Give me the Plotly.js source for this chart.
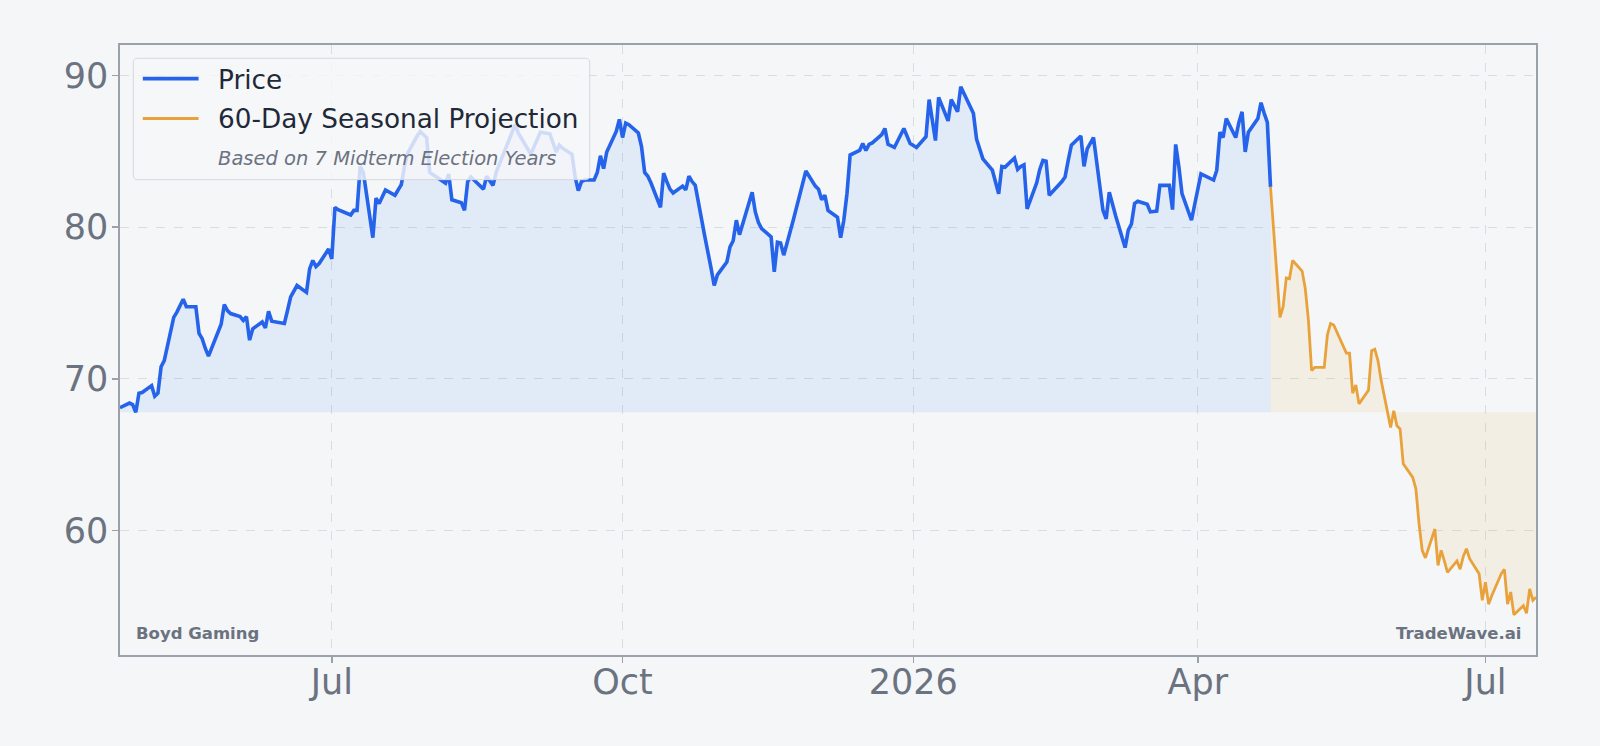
<!DOCTYPE html>
<html>
<head>
<meta charset="utf-8">
<script src="https://cdn.plot.ly/plotly-3.0.1.min.js"></script>
<style>
  html, body { margin: 0; padding: 0; background: #f4f6f8; }
  #chart { width: 1600px; height: 746px; }
</style>
</head>
<body>
<div id="chart"></div>
<script>
// ---------------- DATA ----------------
const companyName = 'Boyd Gaming';
const brandName = 'TradeWave.ai';
const priceLabel = 'Price';
const projectionLabel = '60-Day Seasonal Projection';
const projectionNote = 'Based on 7 Midterm Election Years';

// NYSE holidays inside the price window (no trading)
const marketHolidays = ['2025-05-26','2025-06-19','2025-07-04','2025-09-01','2025-11-27',
  '2025-12-25','2026-01-01','2026-01-19','2026-02-16','2026-04-03'];
const priceStart = '2025-04-25';

// daily closes, one row per trading week
const priceValues = [
  68.1,
  68.4, 68.3, 67.8, 69.05, 69.1,
  69.55, 68.85, 69.05, 70.8, 71.2,
  74.05, 74.4, 74.8, 75.25, 74.75,
  74.75, 73.0, 72.65, 72.0, 71.5,
  73.6, 74.9, 74.5, 74.3,
  74.1, 73.85, 74.1, 72.55, 73.3,
  73.75, 73.35, 74.45, 73.8, 73.75,
  73.65, 74.5, 75.4, 76.15,
  75.7, 77.25, 77.8, 77.4, 77.6,
  78.55, 77.9, 81.3, 81.15,
  80.8, 81.1, 81.1, 84.0, 83.6,
  79.3, 81.9, 81.55, 82.0, 82.45,
  82.1, 82.45, 82.8, 84.0, 84.85,
  86.0, 86.3, 86.1, 85.9, 83.6,
  83.15, 83.0, 82.9, 83.5, 81.8,
  81.6, 81.1, 83.0, 83.3, 83.1,
  82.5, 83.35, 83.0, 82.75, 83.6,
  85.25, 85.8, 86.35, 86.75, 86.2,
  84.8, 85.3, 85.8, 86.25,
  86.15, 85.5, 84.95, 85.4, 85.2,
  84.8, 83.3, 82.4, 83.0, 83.1,
  83.1, 83.6, 84.7, 83.85, 84.95,
  86.3, 87.1, 85.9, 86.85, 86.75,
  86.2, 85.3, 83.6, 83.35, 82.9,
  81.3, 83.55, 83.0, 82.5, 82.25,
  82.7, 82.45, 83.35, 83.0, 82.75,
  79.4, 78.2, 77.3, 76.15, 76.85,
  77.7, 78.7, 79.1, 80.45, 79.5,
  81.5, 82.3, 81.0, 80.3, 79.9,
  79.35, 77.05, 79.0, 78.95, 78.15,
  80.45, 81.3, 82.1, 83.7,
  82.7, 82.5, 81.8, 82.1, 81.1,
  80.65, 79.3, 80.45, 82.2, 84.75,
  85.05, 85.5, 85.05, 85.45, 85.55,
  86.1, 86.5, 85.45, 85.25,
  86.5, 86.0, 85.5, 85.25,
  85.95, 88.4, 86.9, 85.7, 88.55,
  87.0, 88.4, 88.0, 87.6, 89.25,
  87.5, 85.8, 85.1, 84.5,
  83.75, 83.0, 82.2, 84.0, 83.95,
  84.55, 83.8, 84.0, 84.1, 81.2,
  82.9, 83.8, 84.4, 84.35, 82.1,
  83.0, 83.3, 84.4, 85.4,
  86.0, 84.0, 85.15, 85.5, 85.9,
  81.1, 80.55, 82.3, 81.45, 80.75,
  78.65, 79.8, 80.2, 81.55, 81.7,
  81.5, 81.0, 81.0, 81.05, 82.75,
  82.75, 81.15, 85.45, 84.0, 82.2,
  80.45, 81.4, 82.6, 83.5,
  83.1, 83.75, 86.25, 85.9, 87.15,
  85.9, 86.9, 87.6, 84.95, 86.25,
  87.15, 88.2, 87.5, 86.9, 82.65
];

// projected path for the next 60 weekdays after the last close
const projectionValues = [
  74.05, 74.75, 76.65, 76.6, 77.8,
  77.1, 75.95, 73.85, 70.55, 70.75,
  70.75, 72.9, 73.65, 73.55, 73.1,
  71.7, 71.7, 69.05, 69.6, 68.35,
  69.25, 71.85, 71.95, 71.2, 69.9,
  66.8, 67.9, 66.9, 66.7, 64.4,
  63.5, 62.75, 60.45, 58.7, 58.2,
  60.1, 57.7, 58.7, 58.0, 57.25,
  58.0, 57.45, 58.3, 58.8, 58.15,
  57.15, 55.4, 56.6, 55.15, 55.7,
  57.15, 57.45, 55.15, 55.95, 54.45,
  55.05, 54.55, 56.15, 55.4, 55.6
];

const xTickVals = ['2025-07-01', '2025-10-01', '2026-01-01', '2026-04-01', '2026-07-01'];
const xTickText = ['Jul', 'Oct', '2026', 'Apr', 'Jul'];
const yTickVals = [60, 70, 80, 90];
const yRange = [51.8, 92.0];

// ---------------- DATES ----------------
function iso(d) { return d.toISOString().slice(0, 10); }
function weekdays(startIso, n, skipHolidays) {
  const out = [];
  const d = new Date(startIso + 'T00:00:00Z');
  while (out.length < n) {
    const wd = d.getUTCDay();
    const s = iso(d);
    if (wd !== 0 && wd !== 6 && !(skipHolidays && marketHolidays.includes(s))) out.push(s);
    d.setUTCDate(d.getUTCDate() + 1);
  }
  return out;
}
const priceDates = weekdays(priceStart, priceValues.length, true);
const lastDate = priceDates[priceDates.length - 1];
const lastPrice = priceValues[priceValues.length - 1];
const nextDay = new Date(lastDate + 'T00:00:00Z');
nextDay.setUTCDate(nextDay.getUTCDate() + 1);
const projDates = [lastDate].concat(weekdays(iso(nextDay), projectionValues.length, false));
const projY = [lastPrice].concat(projectionValues);
const base = Math.min(...priceValues);

// ---------------- STYLE ----------------
const BG = '#f4f6f8';
const BLUE = '#2563eb';
const ORANGE = '#e9a23b';
const GRID = '#d9dce1';
const AXIS = '#9ba1ab';
const FONT = 'DejaVu Sans, sans-serif';
const TICK_FONT = { family: FONT, size: 35, color: '#6b7280' };
const PRICE_W = 3.6, PROJ_W = 2.8;

const traces = [
  { x: priceDates, y: priceDates.map(() => base), type: 'scatter', mode: 'lines',
    line: { width: 0, color: 'rgba(0,0,0,0)' }, showlegend: false, hoverinfo: 'skip' },
  { x: priceDates, y: priceValues, type: 'scatter', mode: 'lines', name: priceLabel,
    fill: 'tonexty', fillcolor: 'rgba(59,130,246,0.1)',
    line: { color: BLUE, width: PRICE_W }, showlegend: false },
  { x: projDates, y: projDates.map(() => base), type: 'scatter', mode: 'lines',
    line: { width: 0, color: 'rgba(0,0,0,0)' }, showlegend: false, hoverinfo: 'skip' },
  { x: projDates, y: projY, type: 'scatter', mode: 'lines', name: projectionLabel,
    fill: 'tonexty', fillcolor: 'rgba(233,162,59,0.1)',
    line: { color: ORANGE, width: PROJ_W }, showlegend: false }
];

// legend drawn in paper coordinates
const L = { x0: 0.0094, x1: 0.3317, y0: 0.7793, y1: 0.9782 };
const rx = 0.0030, ry = 0.0070;
const boxPath = `M ${L.x0 + rx},${L.y1} L ${L.x1 - rx},${L.y1} Q ${L.x1},${L.y1} ${L.x1},${L.y1 - ry} ` +
  `L ${L.x1},${L.y0 + ry} Q ${L.x1},${L.y0} ${L.x1 - rx},${L.y0} L ${L.x0 + rx},${L.y0} ` +
  `Q ${L.x0},${L.y0} ${L.x0},${L.y0 + ry} L ${L.x0},${L.y1 - ry} Q ${L.x0},${L.y1} ${L.x0 + rx},${L.y1} Z`;

const shapes = [
  { type: 'path', xref: 'paper', yref: 'paper', path: boxPath, layer: 'above',
    fillcolor: 'rgba(246,247,249,0.82)', line: { color: '#d5d8dd', width: 1 } },
  { type: 'line', xref: 'paper', yref: 'paper', x0: 0.0161, x1: 0.0555, y0: 0.9448, y1: 0.9448,
    layer: 'above', line: { color: BLUE, width: PRICE_W } },
  { type: 'line', xref: 'paper', yref: 'paper', x0: 0.0161, x1: 0.0555, y0: 0.8795, y1: 0.8795,
    layer: 'above', line: { color: ORANGE, width: PROJ_W } }
];

const annotations = [
  { xref: 'paper', yref: 'paper', x: 0.0678, y: 0.9431, xanchor: 'left', yanchor: 'middle',
    text: priceLabel, showarrow: false, font: { family: FONT, size: 26.3, color: '#1f2937' } },
  { xref: 'paper', yref: 'paper', x: 0.0678, y: 0.8779, xanchor: 'left', yanchor: 'middle',
    text: projectionLabel, showarrow: false, font: { family: FONT, size: 26.3, color: '#1f2937' } },
  { xref: 'paper', yref: 'paper', x: 0.0678, y: 0.8143, xanchor: 'left', yanchor: 'middle',
    text: '<i>' + projectionNote + '</i>', showarrow: false, font: { family: FONT, size: 19.5, color: '#6b7280' } },
  { xref: 'paper', yref: 'paper', x: 0.0101, y: 0.0351, xanchor: 'left', yanchor: 'middle',
    text: '<b>' + companyName + '</b>', showarrow: false, font: { family: FONT, size: 16.5, color: '#6b7280' } },
  { xref: 'paper', yref: 'paper', x: 0.9905, y: 0.0351, xanchor: 'right', yanchor: 'middle',
    text: '<b>' + brandName + '</b>', showarrow: false, font: { family: FONT, size: 16.5, color: '#6b7280' } }
];

const layout = {
  width: 1600, height: 746,
  paper_bgcolor: BG, plot_bgcolor: BG,
  margin: { l: 120, r: 64, t: 45, b: 91, pad: 0 },
  showlegend: false,
  xaxis: {
    type: 'date', range: [priceStart, projDates[projDates.length - 1]],
    tickmode: 'array', tickvals: xTickVals, ticktext: xTickText,
    tickfont: TICK_FONT, ticks: 'outside', ticklen: 6, tickwidth: 1.5, tickcolor: AXIS,
    ticklabelstandoff: -11,
    showgrid: true, gridcolor: GRID, gridwidth: 1, griddash: 'dash',
    showline: true, linecolor: AXIS, linewidth: 1.6, mirror: true, zeroline: false
  },
  yaxis: {
    range: yRange, tickmode: 'array', tickvals: yTickVals,
    tickfont: TICK_FONT, ticks: 'outside', ticklen: 6, tickwidth: 1.5, tickcolor: AXIS,
    ticklabelstandoff: -3,
    showgrid: true, gridcolor: GRID, gridwidth: 1, griddash: 'dash',
    showline: true, linecolor: AXIS, linewidth: 1.6, mirror: true, zeroline: false
  },
  shapes: shapes,
  annotations: annotations
};

Plotly.newPlot('chart', traces, layout, { staticPlot: true, displayModeBar: false });
</script>
</body>
</html>
